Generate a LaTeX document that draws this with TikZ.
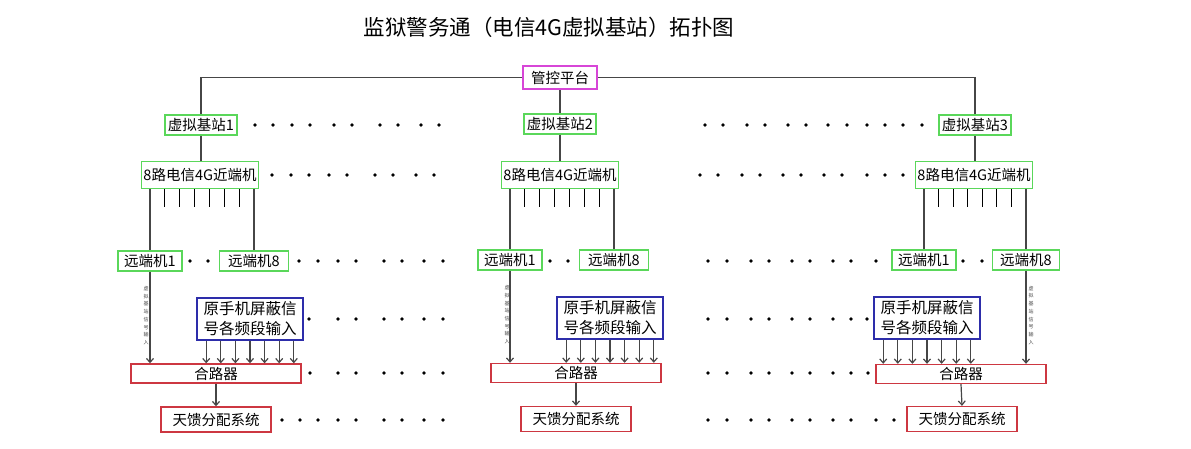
\documentclass[tikz,border=0pt]{standalone}
\usepackage{fontspec}
\setmainfont{Noto Sans CJK SC}
\usetikzlibrary{arrows.meta, positioning, calc}
\definecolor{mygreen}{RGB}{90,215,90}
\definecolor{mymagenta}{RGB}{215,70,215}
\definecolor{myblue}{RGB}{45,45,170}
\definecolor{myred}{RGB}{205,55,65}
\definecolor{mydark}{RGB}{70,70,70}
\tikzset{
  greenbox/.style={rectangle, draw=mygreen, fill=white, line width=1.6pt,
    inner sep=1pt, minimum height=20pt, font=\fontsize{14.5}{16}\selectfont},
  ctrlbox/.style={rectangle, draw=mymagenta, fill=white, line width=1.6pt,
    minimum width=74pt, minimum height=23pt, font=\fontsize{14.5}{16}\selectfont},
  bluebox/.style={rectangle, draw=myblue, fill=white, line width=1.4pt,
    minimum width=106pt, minimum height=42pt, inner sep=2pt, align=center,
    font=\fontsize{15.5}{20}\selectfont},
  redbox/.style={rectangle, draw=myred, fill=white, line width=1.4pt,
    inner sep=1pt, font=\fontsize{14.5}{16}\selectfont},
  arrow/.style={-{Straight Barb[length=4pt,width=7pt]}, line width=1.2pt, color=mydark},
  line/.style={line width=1.2pt, color=mydark},
  port/.style={line width=1.2pt, color=black},
  vlabel/.style={align=center, inner sep=0pt, font=\fontsize{5}{7.7}\selectfont, color=mydark}
}

\begin{document}
\begin{tikzpicture}[x=1pt, y=-1pt]
  \useasboundingbox (0,0) rectangle (1191,448);
  \node[font=\fontsize{21.5}{24}\selectfont] (title) at (549,27) {监狱警务通（电信4G虚拟基站）拓扑图};

  \node[ctrlbox] (ctrl) at (560,77.5) {管控平台};

  % column 1
  \node[greenbox, minimum width=72pt] (bs1) at (201,125) {虚拟基站1};
  \node[greenbox, minimum width=117pt, minimum height=27pt] (nr1) at (200,175) {8路电信4G近端机};
  \node[greenbox, minimum width=64pt] (ra1) at (150,261) {远端机1};
  \node[greenbox, minimum width=69pt] (rb1) at (254,261) {远端机8};
  \node[bluebox] (sig1) at (250,319) {原手机屏蔽信\\号各频段输入};
  \node[redbox, minimum width=170pt, minimum height=19pt] (comb1) at (216,373.5) {合路器};
  \node[redbox, minimum width=110pt, minimum height=25pt] (ant1) at (216,419.5) {天馈分配系统};

  % column 2
  \node[greenbox, minimum width=72pt] (bs2) at (560,124) {虚拟基站2};
  \node[greenbox, minimum width=117pt, minimum height=27pt] (nr2) at (560,175) {8路电信4G近端机};
  \node[greenbox, minimum width=64pt] (ra2) at (510,260) {远端机1};
  \node[greenbox, minimum width=69pt] (rb2) at (614,260) {远端机8};
  \node[bluebox] (sig2) at (610,318) {原手机屏蔽信\\号各频段输入};
  \node[redbox, minimum width=170pt, minimum height=19pt] (comb2) at (576,373) {合路器};
  \node[redbox, minimum width=110pt, minimum height=25pt] (ant2) at (576,419) {天馈分配系统};

  % column 3
  \node[greenbox, minimum width=72pt] (bs3) at (975,125) {虚拟基站3};
  \node[greenbox, minimum width=117pt, minimum height=27pt] (nr3) at (974,175) {8路电信4G近端机};
  \node[greenbox, minimum width=64pt] (ra3) at (924,260) {远端机1};
  \node[greenbox, minimum width=67pt] (rb3) at (1026,260) {远端机8};
  \node[bluebox] (sig3) at (927,318) {原手机屏蔽信\\号各频段输入};
  \node[redbox, minimum width=170pt, minimum height=19pt] (comb3) at (961,374) {合路器};
  \node[redbox, minimum width=110pt, minimum height=25pt] (ant3) at (962,419) {天馈分配系统};

  \draw[line] (bs1.north) |- (ctrl.west);
  \draw[line] (bs3.north) |- (ctrl.east);
  \draw[line] (ctrl.south) -- (bs2.north);

  \foreach \c in {1,2,3} {
    \draw[line] (bs\c.south) -- (bs\c.south |- nr\c.north);
    \draw[line] (ra\c.north) -- (ra\c.north |- nr\c.south);
    \draw[line] (rb\c.north) -- (rb\c.north |- nr\c.south);
    \foreach \i in {1,...,6}
      \draw[port] ($(nr\c.south -| ra\c)!\i/7!(nr\c.south -| rb\c)$) -- ++(0,18);
    \foreach \i in {-3,...,3}
      \draw[arrow] ([xshift=\i*14.6pt]sig\c.south) -- ([xshift=\i*14.6pt]sig\c.south |- comb\c.north);
    \draw[arrow] (comb\c.south) -- (ant\c.north);
  }

  \draw[arrow] (ra1.south) -- (ra1.south |- comb1.north)
    node[vlabel, midway, xshift=-4pt, yshift=2pt] {虚\\拟\\基\\站\\信\\号\\输\\入};
  \draw[arrow] (ra2.south) -- (ra2.south |- comb2.north)
    node[vlabel, midway, xshift=-3pt, yshift=2pt] {虚\\拟\\基\\站\\信\\号\\输\\入};
  \draw[arrow] (rb3.south) -- (rb3.south |- comb3.north)
    node[vlabel, midway, xshift=5pt, yshift=2pt] {虚\\拟\\基\\站\\信\\号\\输\\入};

  % dots
  \foreach \y/\xs in {
    125/{255,273,292,310,334,352,380,398,421,439,705,723,747,765,788,806,828,847,867,885,903,922},
    175/{272,291,309,329,347,375,393,416,434,700,718,742,760,783,801,824,842,867,885,903},
    261/{190,208,299,318,338,356,384,402,424,443,550,568,708,727,751,769,792,810,833,851,876,963,982},
    319/{309,338,356,384,402,424,443,708,727,751,769,792,810,833,851,867},
    373/{310,338,356,384,402,424,443,708,727,751,769,792,810,833,851,868},
    420/{282,300,318,338,356,384,402,424,443,708,727,751,769,792,810,833,851,876,894}}
    \foreach \x in \xs
      \fill (\x,\y) circle (1.8pt);
\end{tikzpicture}
\end{document}
